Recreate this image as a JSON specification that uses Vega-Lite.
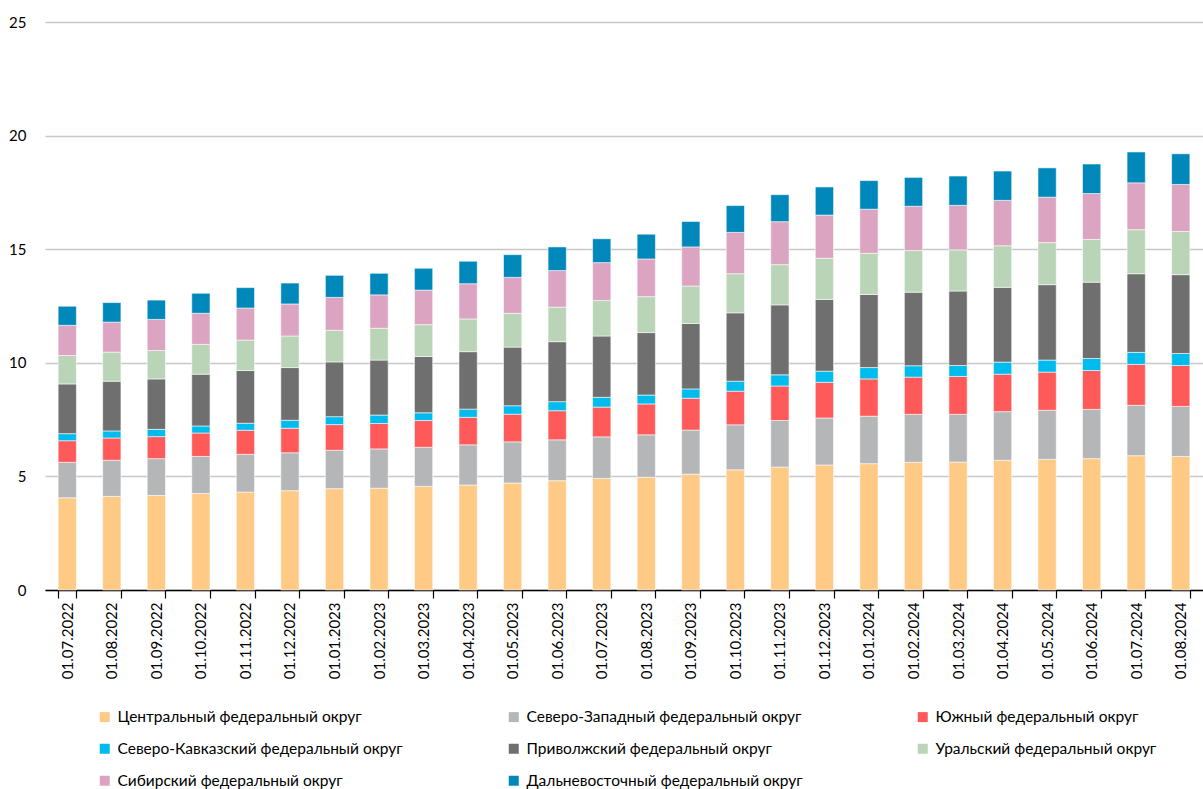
{
  "$schema": "https://vega.github.io/schema/vega-lite/v6.json",
  "width": 1158,
  "height": 568,
  "autosize": {"type": "none"},
  "padding": {"left": 45, "top": 22, "right": 0, "bottom": 199},
  "background": "white",
  "config": {"view": {"stroke": null}, "font": "Lato"},
  "data": {"values": [
    {"date": "01.07.2022", "Центральный федеральный округ": 4.06, "Северо-Западный федеральный округ": 1.56, "Южный федеральный округ": 0.95, "Северо-Кавказский федеральный округ": 0.31, "Приволжский федеральный округ": 2.19, "Уральский федеральный округ": 1.25, "Сибирский федеральный округ": 1.33, "Дальневосточный федеральный округ": 0.84},
    {"date": "01.08.2022", "Центральный федеральный округ": 4.12, "Северо-Западный федеральный округ": 1.59, "Южный федеральный округ": 0.98, "Северо-Кавказский федеральный округ": 0.31, "Приволжский федеральный округ": 2.19, "Уральский федеральный округ": 1.28, "Сибирский федеральный округ": 1.32, "Дальневосточный федеральный округ": 0.86},
    {"date": "01.09.2022", "Центральный федеральный округ": 4.16, "Северо-Западный федеральный округ": 1.62, "Южный федеральный округ": 0.97, "Северо-Кавказский федеральный округ": 0.32, "Приволжский федеральный округ": 2.22, "Уральский федеральный округ": 1.25, "Сибирский федеральный округ": 1.37, "Дальневосточный федеральный округ": 0.85},
    {"date": "01.10.2022", "Центральный федеральный округ": 4.25, "Северо-Западный федеральный округ": 1.63, "Южный федеральный округ": 1.03, "Северо-Кавказский федеральный округ": 0.31, "Приволжский федеральный округ": 2.28, "Уральский федеральный округ": 1.31, "Сибирский федеральный округ": 1.37, "Дальневосточный федеральный округ": 0.88},
    {"date": "01.11.2022", "Центральный федеральный округ": 4.31, "Северо-Западный федеральный округ": 1.66, "Южный федеральный округ": 1.06, "Северо-Кавказский федеральный округ": 0.31, "Приволжский федеральный округ": 2.32, "Уральский федеральный округ": 1.34, "Сибирский федеральный округ": 1.41, "Дальневосточный федеральный округ": 0.90},
    {"date": "01.12.2022", "Центральный федеральный округ": 4.37, "Северо-Западный федеральный округ": 1.67, "Южный федеральный округ": 1.08, "Северо-Кавказский федеральный округ": 0.35, "Приволжский федеральный округ": 2.32, "Уральский федеральный округ": 1.39, "Сибирский федеральный округ": 1.41, "Дальневосточный федеральный округ": 0.92},
    {"date": "01.01.2023", "Центральный федеральный округ": 4.46, "Северо-Западный федеральный округ": 1.69, "Южный федеральный округ": 1.13, "Северо-Кавказский федеральный округ": 0.35, "Приволжский федеральный округ": 2.41, "Уральский федеральный округ": 1.39, "Сибирский федеральный округ": 1.45, "Дальневосточный федеральный округ": 0.97},
    {"date": "01.02.2023", "Центральный федеральный округ": 4.48, "Северо-Западный федеральный округ": 1.73, "Южный федеральный округ": 1.12, "Северо-Кавказский федеральный округ": 0.37, "Приволжский федеральный округ": 2.42, "Уральский федеральный округ": 1.40, "Сибирский федеральный округ": 1.47, "Дальневосточный федеральный округ": 0.95},
    {"date": "01.03.2023", "Центральный федеральный округ": 4.56, "Северо-Западный федеральный округ": 1.72, "Южный федеральный округ": 1.18, "Северо-Кавказский федеральный округ": 0.34, "Приволжский федеральный округ": 2.48, "Уральский федеральный округ": 1.40, "Сибирский федеральный округ": 1.52, "Дальневосточный федеральный округ": 0.96},
    {"date": "01.04.2023", "Центральный федеральный округ": 4.62, "Северо-Западный федеральный округ": 1.77, "Южный федеральный округ": 1.21, "Северо-Кавказский федеральный округ": 0.36, "Приволжский федеральный округ": 2.53, "Уральский федеральный округ": 1.44, "Сибирский федеральный округ": 1.55, "Дальневосточный федеральный округ": 0.99},
    {"date": "01.05.2023", "Центральный федеральный округ": 4.71, "Северо-Западный федеральный округ": 1.81, "Южный федеральный округ": 1.22, "Северо-Кавказский федеральный округ": 0.37, "Приволжский федеральный округ": 2.58, "Уральский федеральный округ": 1.49, "Сибирский федеральный округ": 1.58, "Дальневосточный федеральный округ": 1.00},
    {"date": "01.06.2023", "Центральный федеральный округ": 4.81, "Северо-Западный федеральный округ": 1.80, "Южный федеральный округ": 1.28, "Северо-Кавказский федеральный округ": 0.40, "Приволжский федеральный округ": 2.64, "Уральский федеральный округ": 1.52, "Сибирский федеральный округ": 1.61, "Дальневосточный федеральный округ": 1.04},
    {"date": "01.07.2023", "Центральный федеральный округ": 4.91, "Северо-Западный федеральный округ": 1.83, "Южный федеральный округ": 1.31, "Северо-Кавказский федеральный округ": 0.43, "Приволжский федеральный округ": 2.70, "Уральский федеральный округ": 1.56, "Сибирский федеральный округ": 1.67, "Дальневосточный федеральный округ": 1.05},
    {"date": "01.08.2023", "Центральный федеральный округ": 4.96, "Северо-Западный федеральный округ": 1.87, "Южный федеральный округ": 1.36, "Северо-Кавказский федеральный округ": 0.39, "Приволжский федеральный округ": 2.75, "Уральский федеральный округ": 1.58, "Сибирский федеральный округ": 1.66, "Дальневосточный федеральный округ": 1.09},
    {"date": "01.09.2023", "Центральный федеральный округ": 5.10, "Северо-Западный федеральный округ": 1.94, "Южный федеральный округ": 1.40, "Северо-Кавказский федеральный округ": 0.41, "Приволжский федеральный округ": 2.88, "Уральский федеральный округ": 1.65, "Сибирский федеральный округ": 1.72, "Дальневосточный федеральный округ": 1.12},
    {"date": "01.10.2023", "Центральный федеральный округ": 5.29, "Северо-Западный федеральный округ": 1.98, "Южный федеральный округ": 1.48, "Северо-Кавказский федеральный округ": 0.44, "Приволжский федеральный округ": 3.01, "Уральский федеральный округ": 1.72, "Сибирский федеральный округ": 1.82, "Дальневосточный федеральный округ": 1.18},
    {"date": "01.11.2023", "Центральный федеральный округ": 5.41, "Северо-Западный федеральный округ": 2.05, "Южный федеральный округ": 1.52, "Северо-Кавказский федеральный округ": 0.49, "Приволжский федеральный округ": 3.08, "Уральский федеральный округ": 1.77, "Сибирский федеральный округ": 1.89, "Дальневосточный федеральный округ": 1.19},
    {"date": "01.12.2023", "Центральный федеральный округ": 5.50, "Северо-Западный федеральный округ": 2.07, "Южный федеральный округ": 1.57, "Северо-Кавказский федеральный округ": 0.49, "Приволжский федеральный округ": 3.16, "Уральский федеральный округ": 1.81, "Сибирский федеральный округ": 1.90, "Дальневосточный федеральный округ": 1.24},
    {"date": "01.01.2024", "Центральный федеральный округ": 5.56, "Северо-Западный федеральный округ": 2.09, "Южный федеральный округ": 1.64, "Северо-Кавказский федеральный округ": 0.50, "Приволжский федеральный округ": 3.22, "Уральский федеральный округ": 1.81, "Сибирский федеральный округ": 1.94, "Дальневосточный федеральный округ": 1.26},
    {"date": "01.02.2024", "Центральный федеральный округ": 5.62, "Северо-Западный федеральный округ": 2.11, "Южный федеральный округ": 1.64, "Северо-Кавказский федеральный округ": 0.50, "Приволжский федеральный округ": 3.24, "Уральский федеральный округ": 1.83, "Сибирский федеральный округ": 1.95, "Дальневосточный федеральный округ": 1.27},
    {"date": "01.03.2024", "Центральный федеральный округ": 5.63, "Северо-Западный федеральный округ": 2.10, "Южный федеральный округ": 1.67, "Северо-Кавказский федеральный округ": 0.48, "Приволжский федеральный округ": 3.28, "Уральский федеральный округ": 1.81, "Сибирский федеральный округ": 1.96, "Дальневосточный федеральный округ": 1.29},
    {"date": "01.04.2024", "Центральный федеральный округ": 5.71, "Северо-Западный федеральный округ": 2.14, "Южный федеральный округ": 1.65, "Северо-Кавказский федеральный округ": 0.53, "Приволжский федеральный округ": 3.29, "Уральский федеральный округ": 1.83, "Сибирский федеральный округ": 2.00, "Дальневосточный федеральный округ": 1.29},
    {"date": "01.05.2024", "Центральный федеральный округ": 5.75, "Северо-Западный федеральный округ": 2.16, "Южный федеральный округ": 1.68, "Северо-Кавказский федеральный округ": 0.53, "Приволжский федеральный округ": 3.32, "Уральский федеральный округ": 1.85, "Сибирский федеральный округ": 2.00, "Дальневосточный федеральный округ": 1.29},
    {"date": "01.06.2024", "Центральный федеральный округ": 5.78, "Северо-Западный федеральный округ": 2.17, "Южный федеральный округ": 1.71, "Северо-Кавказский федеральный округ": 0.53, "Приволжский федеральный округ": 3.36, "Уральский федеральный округ": 1.88, "Сибирский федеральный округ": 2.02, "Дальневосточный федеральный округ": 1.30},
    {"date": "01.07.2024", "Центральный федеральный округ": 5.91, "Северо-Западный федеральный округ": 2.22, "Южный федеральный округ": 1.80, "Северо-Кавказский федеральный округ": 0.53, "Приволжский федеральный округ": 3.46, "Уральский федеральный округ": 1.94, "Сибирский федеральный округ": 2.06, "Дальневосточный федеральный округ": 1.36},
    {"date": "01.08.2024", "Центральный федеральный округ": 5.88, "Северо-Западный федеральный округ": 2.20, "Южный федеральный округ": 1.80, "Северо-Кавказский федеральный округ": 0.53, "Приволжский федеральный округ": 3.47, "Уральский федеральный округ": 1.90, "Сибирский федеральный округ": 2.07, "Дальневосточный федеральный округ": 1.35}
  ]},
  "transform": [
    {"fold": ["Центральный федеральный округ", "Северо-Западный федеральный округ", "Южный федеральный округ", "Северо-Кавказский федеральный округ", "Приволжский федеральный округ", "Уральский федеральный округ", "Сибирский федеральный округ", "Дальневосточный федеральный округ"], "as": ["region", "value"]},
    {"window": [{"op": "row_number", "as": "k"}], "groupby": ["date"]}
  ],
  "mark": {"type": "bar", "stroke": "white", "strokeWidth": 0.8, "strokeOpacity": 0.7},
  "encoding": {
    "x": {
      "field": "date", "type": "ordinal", "sort": null,
      "scale": {"paddingInner": 0.59, "paddingOuter": 0.295},
      "axis": {"title": null, "labelAngle": -90, "tickBand": "extent", "domainColor": "#000000", "domainWidth": 1.5, "tickColor": "#000000", "tickWidth": 1.2, "tickSize": 8, "labelFontSize": 15, "labelColor": "#000000", "labelPadding": 4}
    },
    "y": {
      "field": "value", "type": "quantitative", "stack": "zero",
      "scale": {"domain": [0, 25]},
      "axis": {"title": null, "values": [0, 5, 10, 15, 20, 25], "domain": false, "ticks": false, "gridColor": "#c8c8c8", "gridWidth": 1.5, "labelFontSize": 15, "labelPadding": 19, "labelColor": "#000000"}
    },
    "order": {"field": "k", "type": "quantitative", "sort": "ascending"},
    "color": {
      "field": "region", "type": "nominal",
      "sort": ["Центральный федеральный округ", "Северо-Западный федеральный округ", "Южный федеральный округ", "Северо-Кавказский федеральный округ", "Приволжский федеральный округ", "Уральский федеральный округ", "Сибирский федеральный округ", "Дальневосточный федеральный округ"],
      "scale": {
        "domain": ["Центральный федеральный округ", "Северо-Западный федеральный округ", "Южный федеральный округ", "Северо-Кавказский федеральный округ", "Приволжский федеральный округ", "Уральский федеральный округ", "Сибирский федеральный округ", "Дальневосточный федеральный округ"],
        "range": ["#FFC986", "#B5B6B8", "#FF5A5A", "#00BBEE", "#6E6F6E", "#B9D4B6", "#DBA4C0", "#0088BB"]
      },
      "legend": {"title": null, "orient": "none", "direction": "horizontal", "legendX": 52, "legendY": 687, "columns": 3, "gridAlign": "all", "columnPadding": 103, "rowPadding": 15, "symbolType": "square", "symbolSize": 100, "symbolStrokeWidth": 0, "labelFontSize": 15.5, "labelColor": "#000000", "labelOffset": 5, "labelLimit": 400}
    }
  }
}
